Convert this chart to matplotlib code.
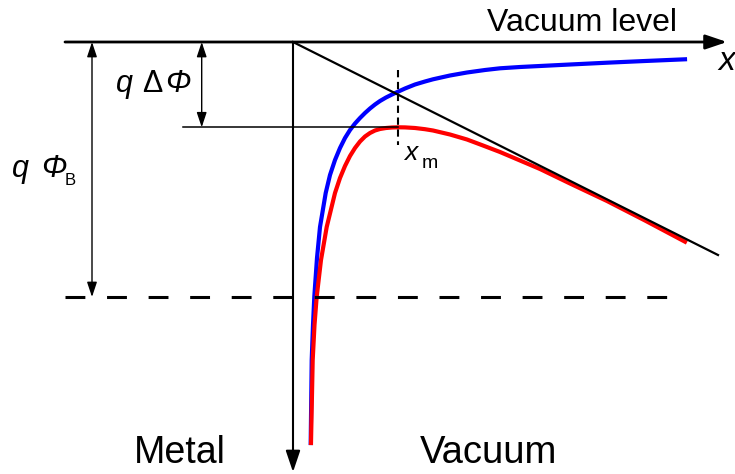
import matplotlib
matplotlib.use('Agg')
import matplotlib.pyplot as plt

plt.rcParams['font.family'] = ['Liberation Sans', 'DejaVu Sans']

# ---- data: distance from metal surface (x) and energy relative to vacuum level (E)
# image-force potential (blue)
blue_x = [17.7, 18.7, 20, 21.3, 24, 27, 32.7, 37, 42, 47, 52, 57, 62, 67, 72,
          77, 82, 87, 93, 99, 103.7, 112, 122, 132, 140, 157, 174, 192, 207,
          227, 247, 277, 314, 352, 392]
blue_E = [-401, -318, -283, -254.7, -216, -185, -151, -133, -118, -106, -96,
          -88, -81.5, -76, -71, -66.5, -62.5, -59, -55.5, -52.5, -50.3, -46.5,
          -42.5, -39.5, -37.3, -33.5, -30.5, -28, -26.3, -25, -24, -22.5,
          -20.7, -19, -17.3]
# total potential with applied field (red)
red_x = [18, 19.7, 21.5, 23.7, 28, 33.7, 37, 42, 47, 52, 57, 62, 67, 72, 77,
         82, 87, 93, 99, 105, 112, 122, 132, 140, 157, 174, 190, 207, 227, 247,
         277, 314, 352, 392]
red_E = [-401, -318, -283, -254.7, -218, -185, -171.5, -151, -136, -124, -114,
         -106, -99.5, -94.5, -91, -88.5, -87, -86, -85.5, -85.3, -85.4, -86,
         -87.2, -88.5, -92.5, -97.5, -103.5, -110, -118.5, -127, -141.5, -159,
         -178.5, -199.7]
# potential of the applied field (black line)
field_x = [0, 425]
field_E = [0, -213]
# levels
barrier_E = -255.0    # metal Fermi level (q Phi_B below vacuum)
x_m = 104.5           # position of barrier maximum
E_m = -85.3           # lowered barrier maximum

fig = plt.figure(figsize=(7.35, 4.74), dpi=100)
ax = fig.add_axes([0, 0, 1, 1])
ax.set_xlim(-293, 442)
ax.set_ylim(-432, 42)
ax.axis('off')

# curves
ax.plot(blue_x, blue_E, color='#0000ff', lw=3, solid_joinstyle='round', zorder=2)
ax.plot(red_x, red_E, color='#ff0000', lw=3, solid_joinstyle='round', zorder=2)
ax.plot(field_x, field_E, color='k', lw=1.6, zorder=3)

# vacuum level with x arrow
big_head = '-|>,head_length=0.65,head_width=0.22'
ax.annotate('', xy=(434, 0), xytext=(-228, 0),
            arrowprops=dict(arrowstyle=big_head, lw=2, color='k',
                            shrinkA=0, shrinkB=0, mutation_scale=20), zorder=4)
# vertical energy axis
ax.annotate('', xy=(0, -430), xytext=(0, 0),
            arrowprops=dict(arrowstyle=big_head, lw=1.5, color='k',
                            shrinkA=0, shrinkB=0, mutation_scale=20), zorder=4)

# Fermi level dashed
ax.plot([-228, 374], [barrier_E, barrier_E], color='k', lw=2.2,
        ls=(0, (6.5, 7.1)), zorder=4)

# barrier maximum lines
ax.plot([-110, x_m], [E_m, E_m], color='k', lw=1.1, zorder=3)
ax.plot([x_m, x_m], [-28, -103], color='k', lw=1.5, ls=(0, (3.5, 2.2)), zorder=3)

# double arrows
small = '<|-|>,head_length=0.6,head_width=0.2'
ax.annotate('', xy=(-201, barrier_E), xytext=(-201, 0),
            arrowprops=dict(arrowstyle=small, lw=1, color='k',
                            shrinkA=0, shrinkB=0, mutation_scale=15))
ax.annotate('', xy=(-91.3, E_m), xytext=(-91.3, 0),
            arrowprops=dict(arrowstyle=small, lw=1, color='k',
                            shrinkA=0, shrinkB=0, mutation_scale=15))

# texts
ax.text(193.7, 11.3, 'Vacuum level', fontsize=23, ha='left', va='baseline')
ax.text(425, -28, 'x', fontsize=24, style='italic', ha='left', va='baseline')
ax.text(-159, -421, 'Metal', fontsize=27, ha='left', va='baseline')
ax.text(127, -421, 'Vacuum', fontsize=27.5, ha='left', va='baseline')

ax.text(-177, -49.7, 'q', fontsize=22, style='italic', ha='left', va='baseline')
ax.text(-151, -49.7, '\u0394', fontsize=22, ha='left', va='baseline')
ax.text(-128, -49.7, '\u03a6', fontsize=22, style='italic', ha='left', va='baseline')

ax.text(-281, -134.7, 'q', fontsize=22, style='italic', ha='left', va='baseline')
ax.text(-252, -134.7, '\u03a6', fontsize=22, style='italic', ha='left', va='baseline')
ax.text(-228, -143, 'B', fontsize=12, ha='left', va='baseline')

ax.text(111, -118, 'x', fontsize=19, style='italic', ha='left', va='baseline')
ax.text(129, -126.3, 'm', fontsize=14, ha='left', va='baseline')

fig.savefig('out.png', dpi=100)
